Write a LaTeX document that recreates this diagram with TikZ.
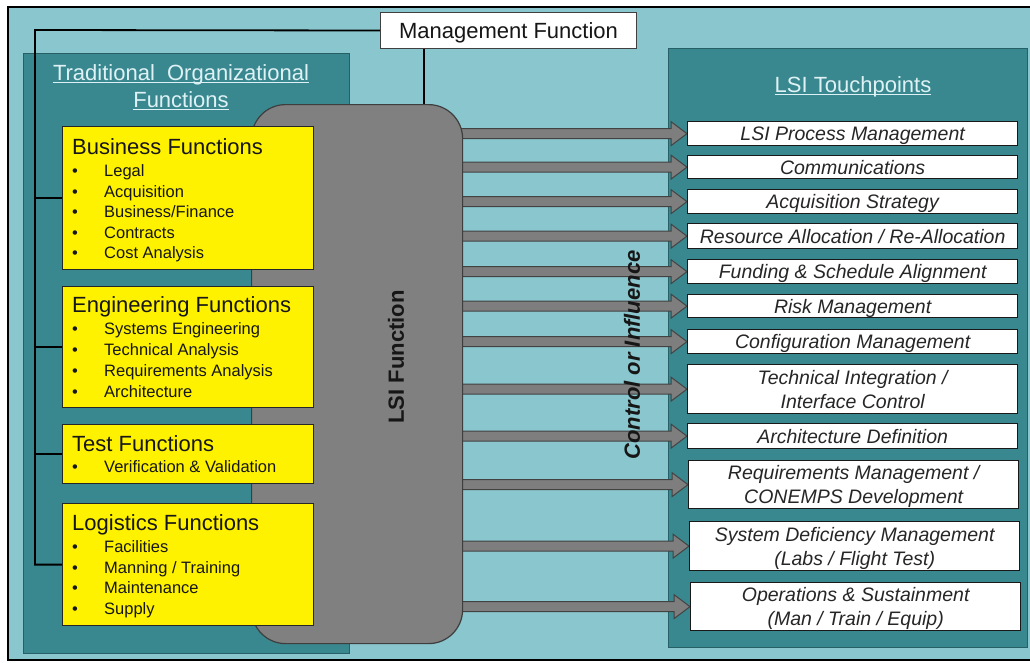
\documentclass[tikz,border=0pt]{standalone}
\usepackage{fontspec}
\setmainfont{Liberation Sans}
\usetikzlibrary{calc}
\definecolor{bgblue}{RGB}{138,198,206}
\definecolor{panelteal}{RGB}{58,136,143}
\definecolor{paneledge}{RGB}{38,96,102}
\definecolor{titlewhite}{RGB}{222,242,245}
\definecolor{lsigray}{RGB}{128,128,128}
\definecolor{lsiedge}{RGB}{62,62,62}
\definecolor{arrowgray}{RGB}{126,126,126}
\definecolor{arrowedge}{RGB}{66,66,66}
\definecolor{ink}{RGB}{22,22,22}
\definecolor{tpink}{RGB}{38,38,38}
\newcommand\myul[1]{\setbox0\hbox{#1}\rlap{\rule[-2.6pt]{\wd0}{1.1pt}}\box0}
\pgfdeclarelayer{bg}
\pgfdeclarelayer{mid}
\pgfsetlayers{bg,mid,main}
\begin{document}
\begin{tikzpicture}[x=1pt,y=-1pt,
  panel/.style={draw=paneledge, line width=1pt, fill=panelteal, inner sep=0pt, anchor=north west},
  ybox/.style={draw=black!85, line width=1.2pt, fill=yellow, inner sep=0pt, anchor=north west, minimum width=251pt},
  ytitle/.style={anchor=west, inner sep=0pt, font=\fontsize{22}{26}\selectfont, text height=15.75pt, text depth=0pt, text=ink},
  yitem/.style={anchor=west, inner sep=0pt, font=\fontsize{16.5}{20}\selectfont, text height=11.8pt, text depth=0pt, text=ink},
  tp/.style={draw=black!90, line width=1.3pt, fill=white, inner sep=0pt, anchor=north west, minimum width=330pt,
     font=\fontsize{19.5}{24}\selectfont\itshape, text=tpink, text height=14pt, text depth=0pt},
  tpii/.style={tp, align=center, text height=38pt, text depth=0pt},
  conn/.style={draw=black, line width=1.8pt},
  blockarr/.style={fill=arrowgray, draw=arrowedge, line width=1pt, line join=miter},
  paneltitle/.style={inner sep=0pt, text=titlewhite, font=\fontsize{22}{27}\selectfont, align=center}
]
\useasboundingbox (0,0) rectangle (1030,662);
\begin{pgfonlayer}{bg}
  \fill[white] (0,0) rectangle (1030,662);
  \fill[bgblue] (8,7) rectangle (1032,660);
  \draw[black, line width=1.6pt] (1032,7) -- (8,7) -- (8,660) -- (1032,660);
  \node[panel, minimum width=326pt, minimum height=600pt] (trad) at (23,53) {};
  \node[panel, minimum width=359pt, minimum height=599pt] (touch) at (668,48) {};
\end{pgfonlayer}

% panel titles
\node[paneltitle, text height=42.75pt, text depth=0pt] (tradtitle) at (181,86.5)
  {\myul{Traditional\ \ Organizational}\\\myul{Functions}};
\node[paneltitle, text height=15.75pt, text depth=0pt] (touchtitle) at (853,85) {\myul{LSI Touchpoints}};

% management function
\node[draw=black!75, line width=1pt, fill=white, inner sep=0pt, anchor=north west,
      minimum width=256pt, minimum height=36pt, font=\fontsize{22}{26}\selectfont, text=ink,
      text height=15.75pt, text depth=0pt] (mgmt) at (380,12) {Management Function};

% LSI function
\node[draw=lsiedge, line width=1.2pt, fill=lsigray, rounded corners=34pt, inner sep=0pt,
      anchor=north west, minimum width=211pt, minimum height=539pt] (lsi) at (251,104) {};
\node[rotate=90, inner sep=0pt, font=\bfseries\fontsize{22}{26}\selectfont, text=ink] (lsilabel) at (396,357) {LSI Function};

% yellow function boxes
\node[ybox, minimum height=143pt] (bus) at (62,126) {};
\node[ybox, minimum height=121pt] (eng) at (62,286) {};
\node[ybox, minimum height=59pt]  (tst) at (62,424) {};
\node[ybox, minimum height=122pt] (log) at (62,503) {};

\node[ytitle] (bus-t) at (72,147) {Business Functions};
\foreach \s [count=\i] in {{Legal},{Acquisition},{Business/Finance},{Contracts},{Cost Analysis}}
  \node[yitem] (bus-\i) at (72,{171+20.5*(\i-1)}) {\makebox[32pt][l]{•}\s};
\node[ytitle] (eng-t) at (72,305) {Engineering Functions};
\foreach \s [count=\i] in {{Systems Engineering},{Technical Analysis},{Requirements Analysis},{Architecture}}
  \node[yitem] (eng-\i) at (72,{329+20.7*(\i-1)}) {\makebox[32pt][l]{•}\s};
\node[ytitle] (tst-t) at (72,444) {Test Functions};
\node[yitem] (tst-1) at (72,467) {\makebox[32pt][l]{•}Verification \& Validation};
\node[ytitle] (log-t) at (72,523) {Logistics Functions};
\foreach \s [count=\i] in {{Facilities},{Manning / Training},{Maintenance},{Supply}}
  \node[yitem] (log-\i) at (72,{547+20.4*(\i-1)}) {\makebox[32pt][l]{•}\s};

% control or influence
\node[rotate=90, inner sep=0pt, font=\bfseries\itshape\fontsize{22}{26}\selectfont, text=ink] (ctrl) at (632,355) {Control or Influence};

% touchpoints
\node[tp, minimum height=24pt] (t1) at (687,121) {LSI Process Management};
\node[tp, minimum height=23pt] (t2) at (687,155) {Communications};
\node[tp, minimum height=24pt] (t3) at (687,189) {Acquisition Strategy};
\node[tp, minimum height=25pt] (t4) at (687,223) {Resource Allocation / Re-Allocation};
\node[tp, minimum height=24pt] (t5) at (687,259) {Funding \& Schedule Alignment};
\node[tp, minimum height=23pt] (t6) at (687,294) {Risk Management};
\node[tp, minimum height=24pt] (t7) at (687,329) {Configuration Management};
\node[tpii, minimum height=49pt] (t8) at (687,364) {Technical Integration /\\Interface Control};
\node[tp, minimum height=25pt] (t9) at (687,423) {Architecture Definition};
\node[tpii, minimum height=48pt] (t10) at (688,460) {Requirements Management /\\CONEMPS Development};
\node[tpii, minimum height=49pt] (t11) at (689,521) {System Deficiency Management\\(Labs / Flight Test)};
\node[tpii, minimum height=48pt] (t12) at (690,582) {Operations \& Sustainment\\(Man / Train / Equip)};

\begin{pgfonlayer}{mid}
  % management connectors
  \coordinate (spine) at (35,30);
  \coordinate (mdrop) at (424,0);
  \draw[conn] (mgmt.west) -- (spine) |- (log.west);
  \draw[conn] (spine) |- (bus.west);
  \draw[conn] (spine) |- (eng.west);
  \draw[conn] (spine) |- (tst.west);
  \draw[conn] (mgmt.south -| mdrop) -- (lsi.north -| mdrop);
  % block arrows
  \foreach \i in {1,...,12}{
    \coordinate (s\i) at (lsi.center |- t\i.west);
    \draw[blockarr] ($(s\i)+(0,-5)$) -- ($(t\i.west)+(-16,-5)$) -- ($(t\i.west)+(-16,-12)$)
      -- (t\i.west) -- ($(t\i.west)+(-16,12)$) -- ($(t\i.west)+(-16,5)$) -- ($(s\i)+(0,5)$) -- cycle;
  }
\end{pgfonlayer}
\end{tikzpicture}
\end{document}
